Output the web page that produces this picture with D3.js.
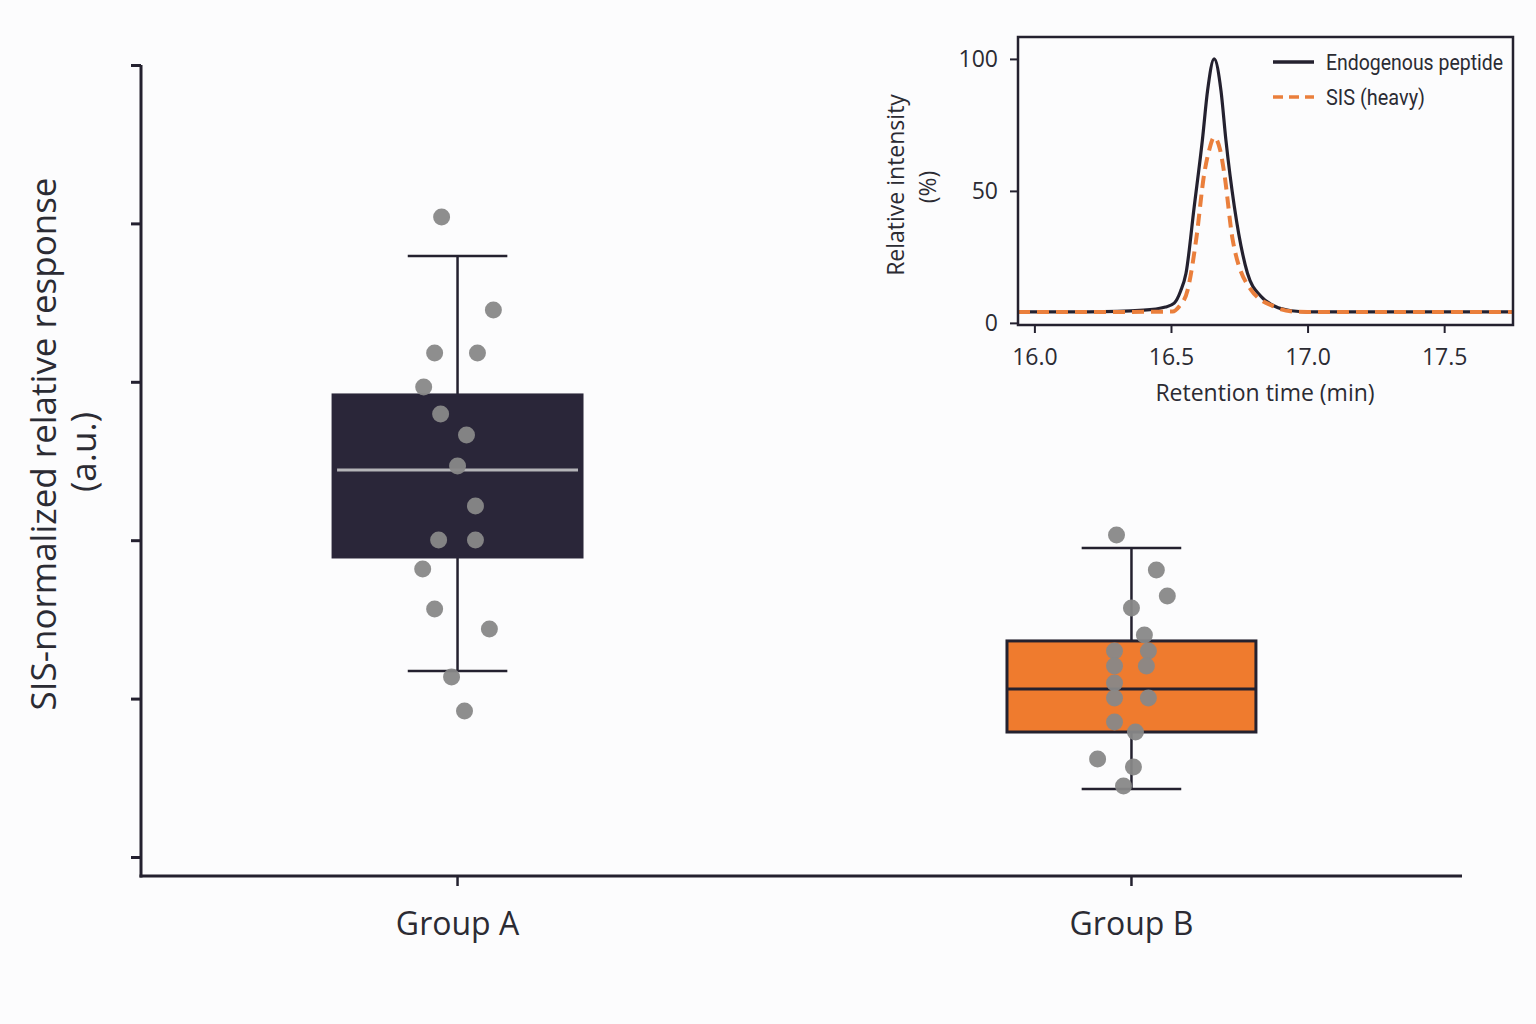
<!DOCTYPE html>
<html>
<head>
<meta charset="utf-8">
<script src="https://cdn.jsdelivr.net/npm/d3@7"></script>
<style>
  body { margin: 0; background: #fcfcfd; }
  svg { display: block; font-family: "Open Sans", "Noto Sans", sans-serif; }
</style>
</head>
<body>
<svg width="1536" height="1024"></svg>
<script>
/* data */
const groups = ["Group A", "Group B"];
const whiskerLow = [1.174, 0.429];
const q1 = [1.894, 0.789];
const median = [2.443, 1.061];
const q3 = [2.917, 1.364];
const whiskerHigh = [3.794, 1.951];

const pointsA = [4.040, 3.453, 3.182, 3.182, 2.967, 2.797, 2.664, 2.468, 2.216, 2.001, 2.001, 1.818, 1.566, 1.439, 1.136, 0.922];
const jitterA = [-0.064, 0.144, -0.092, 0.080, -0.136, -0.068, 0.036, 0, 0.072, -0.076, 0.072, -0.140, -0.092, 0.128, -0.024, 0.028];
const pointsB = [2.033, 1.812, 1.648, 1.572, 1.402, 1.301, 1.301, 1.206, 1.206, 1.098, 1.004, 1.004, 0.852, 0.789, 0.619, 0.568, 0.448];
const jitterB = [-0.060, 0.100, 0.144, 0, 0.052, -0.068, 0.068, -0.068, 0.060, -0.068, -0.068, 0.068, -0.068, 0.016, -0.136, 0.008, -0.032];

const yTicks = [0, 1, 2, 3, 4, 5];

// inset chromatogram
const rtEndo = [15.94, 16.20, 16.40, 16.48, 16.512, 16.535, 16.555, 16.585, 16.615, 16.634, 16.658, 16.683, 16.701, 16.732, 16.78, 16.83, 16.88, 16.94, 17.0, 17.752];
const intEndo = [4.15, 4.2, 4.8, 6.0, 7.5, 12, 18.8, 44, 69.3, 88, 100, 88, 69.3, 44, 18.8, 10, 6.3, 4.6, 4.2, 4.15];
const rtSis = [15.94, 16.30, 16.506, 16.530, 16.561, 16.592, 16.622, 16.640, 16.658, 16.680, 16.695, 16.726, 16.793, 16.877, 16.95, 17.0, 17.752];
const intSis = [4.15, 4.15, 4.3, 6.2, 12.5, 31.4, 56.7, 65.5, 70.3, 65.5, 56.7, 31.4, 12.5, 6.2, 4.3, 4.15, 4.15];
const insetXTicks = [16.0, 16.5, 17.0, 17.5];
const insetYTicks = [0, 50, 100];
const legendLabels = ["Endogenous peptide", "SIS (heavy)"];

/* colours */
const dark = "#24212f";
const boxDark = "#2a2639";
const orange = "#ef7b2e";
const lineOrange = "#ea7f3c";
const dotGrey = "#888888";

const svg = d3.select("svg");

/* main box plot */
const x = d3.scaleBand().domain(groups).range([141, 1448]).paddingInner(0.6306).paddingOuter(0.285);
const y = d3.scaleLinear().domain([-0.12, 5]).range([876, 65]);
const bw = x.bandwidth();

// y axis (no labels)
const yAxis = svg.append("g")
    .attr("transform", "translate(141,0)")
    .call(d3.axisLeft(y).tickValues(yTicks).tickFormat("").tickSize(10).tickSizeOuter(0));
yAxis.select(".domain").remove();
yAxis.selectAll(".tick line").attr("stroke", dark).attr("stroke-width", 3);
svg.append("line")
    .attr("x1", 141).attr("x2", 141).attr("y1", 65).attr("y2", 877.5)
    .attr("stroke", dark).attr("stroke-width", 3);

// x axis
const xAxis = svg.append("g")
    .attr("transform", "translate(0,876)")
    .call(d3.axisBottom(x).tickSize(10).tickPadding(26).tickSizeOuter(0));
xAxis.select(".domain").remove();
xAxis.selectAll(".tick line").attr("stroke", dark).attr("stroke-width", 2.5);
xAxis.selectAll(".tick text")
    .attr("font-size", 32).attr("fill", "#2b2b33")
    .attr("font-family", "'Open Sans', 'Noto Sans', sans-serif");
svg.append("line")
    .attr("x1", 139.5).attr("x2", 1462).attr("y1", 876).attr("y2", 876)
    .attr("stroke", dark).attr("stroke-width", 3);

// y label
svg.append("text")
    .attr("transform", "translate(56,444) rotate(-90)")
    .attr("text-anchor", "middle")
    .attr("font-size", 35).attr("fill", "#2b2b33")
    .text("SIS-normalized relative response");
svg.append("text")
    .attr("transform", "translate(96,452) rotate(-90)")
    .attr("text-anchor", "middle")
    .attr("font-size", 35).attr("fill", "#2b2b33")
    .text("(a.u.)");

// boxes
const boxFill = [boxDark, orange];
const medianColor = ["#b4b4b8", dark];
const boxStroke = [boxDark, dark];

groups.forEach(function (g, i) {
    const cx = x(g) + bw / 2;
    const box = svg.append("g");
    // whiskers
    box.append("line")
        .attr("x1", cx).attr("x2", cx)
        .attr("y1", y(whiskerHigh[i])).attr("y2", y(q3[i]))
        .attr("stroke", dark).attr("stroke-width", 2.5);
    box.append("line")
        .attr("x1", cx).attr("x2", cx)
        .attr("y1", y(q1[i])).attr("y2", y(whiskerLow[i]))
        .attr("stroke", dark).attr("stroke-width", 2.5);
    [whiskerHigh[i], whiskerLow[i]].forEach(function (w) {
        box.append("line")
            .attr("x1", cx - bw * 0.2).attr("x2", cx + bw * 0.2)
            .attr("y1", y(w)).attr("y2", y(w))
            .attr("stroke", dark).attr("stroke-width", 2.5);
    });
    // box
    box.append("rect")
        .attr("x", x(g)).attr("width", bw)
        .attr("y", y(q3[i])).attr("height", y(q1[i]) - y(q3[i]))
        .attr("fill", boxFill[i])
        .attr("stroke", boxStroke[i]).attr("stroke-width", 3);
    // median
    box.append("line")
        .attr("x1", x(g) + (i === 0 ? 4 : 0)).attr("x2", x(g) + bw - (i === 0 ? 4 : 0))
        .attr("y1", y(median[i])).attr("y2", y(median[i]))
        .attr("stroke", medianColor[i]).attr("stroke-width", 3);
});

// points
const allPoints = [
    { g: "Group A", v: pointsA, j: jitterA },
    { g: "Group B", v: pointsB, j: jitterB }
];
allPoints.forEach(function (p) {
    svg.append("g").selectAll("circle")
        .data(p.v)
        .enter()
        .append("circle")
        .attr("cx", function (d, k) { return x(p.g) + bw / 2 + p.j[k] * bw; })
        .attr("cy", function (d) { return y(d); })
        .attr("r", 8.5)
        .attr("fill", dotGrey)
        .attr("fill-opacity", 0.95);
});

/* inset chromatogram */
const ix = d3.scaleLinear().domain([15.94, 17.752]).range([1018, 1513]);
const iy = d3.scaleLinear().domain([-0.8, 108.3]).range([325, 37]);

const inset = svg.append("g");

const line = d3.line()
    .x(function (d) { return ix(d[0]); })
    .y(function (d) { return iy(d[1]); })
    .curve(d3.curveMonotoneX);

inset.append("path")
    .datum(d3.zip(rtEndo, intEndo))
    .attr("d", line)
    .attr("fill", "none").attr("stroke", dark).attr("stroke-width", 3.2);
inset.append("path")
    .datum(d3.zip(rtSis, intSis))
    .attr("d", line)
    .attr("fill", "none").attr("stroke", lineOrange).attr("stroke-width", 4)
    .attr("stroke-dasharray", "12,7");

inset.append("rect")
    .attr("x", 1018).attr("y", 37).attr("width", 495).attr("height", 288)
    .attr("fill", "none").attr("stroke", dark).attr("stroke-width", 2.5);

const ixAxis = inset.append("g")
    .attr("transform", "translate(0,325)")
    .call(d3.axisBottom(ix).tickValues(insetXTicks).tickFormat(d3.format(".1f")).tickSize(8).tickPadding(16).tickSizeOuter(0));
ixAxis.select(".domain").remove();
ixAxis.selectAll(".tick line").attr("stroke", dark).attr("stroke-width", 2);
ixAxis.selectAll(".tick text").attr("font-size", 23).attr("fill", "#2b2b33")
    .attr("font-family", "'Open Sans', 'Noto Sans', sans-serif");

const iyAxis = inset.append("g")
    .attr("transform", "translate(1018,0)")
    .call(d3.axisLeft(iy).tickValues(insetYTicks).tickSize(8).tickPadding(12).tickSizeOuter(0));
iyAxis.select(".domain").remove();
iyAxis.selectAll(".tick line").attr("stroke", dark).attr("stroke-width", 2);
iyAxis.selectAll(".tick text").attr("font-size", 23).attr("fill", "#2b2b33")
    .attr("font-family", "'Open Sans', 'Noto Sans', sans-serif");

inset.append("text")
    .attr("x", 1265).attr("y", 401)
    .attr("text-anchor", "middle")
    .attr("font-size", 23).attr("fill", "#2b2b33")
    .text("Retention time (min)");
inset.append("text")
    .attr("transform", "translate(904,185) rotate(-90)")
    .attr("text-anchor", "middle")
    .attr("font-size", 23).attr("fill", "#2b2b33")
    .text("Relative intensity");
inset.append("text")
    .attr("transform", "translate(936,187) rotate(-90)")
    .attr("text-anchor", "middle")
    .attr("font-size", 23).attr("fill", "#2b2b33")
    .text("(%)");

// legend
const legendStroke = [{ c: dark, dash: null, len: 177 }, { c: lineOrange, dash: "10,6", len: 99 }];
const legend = inset.append("g").selectAll("g")
    .data(legendLabels)
    .enter()
    .append("g")
    .attr("transform", function (d, i) { return "translate(1273," + (62 + i * 35) + ")"; });
legend.append("line")
    .attr("x1", 0).attr("x2", 41)
    .attr("stroke", function (d, i) { return legendStroke[i].c; })
    .attr("stroke-width", 3.6)
    .attr("stroke-dasharray", function (d, i) { return legendStroke[i].dash; });
legend.append("text")
    .attr("x", 53).attr("dy", "0.35em")
    .attr("font-size", 22).attr("fill", "#2b2b33")
    .attr("font-family", "Roboto, 'Open Sans', sans-serif")
    .attr("textLength", function (d, i) { return legendStroke[i].len; })
    .attr("lengthAdjust", "spacingAndGlyphs")
    .text(function (d) { return d; });
</script>
</body>
</html>
